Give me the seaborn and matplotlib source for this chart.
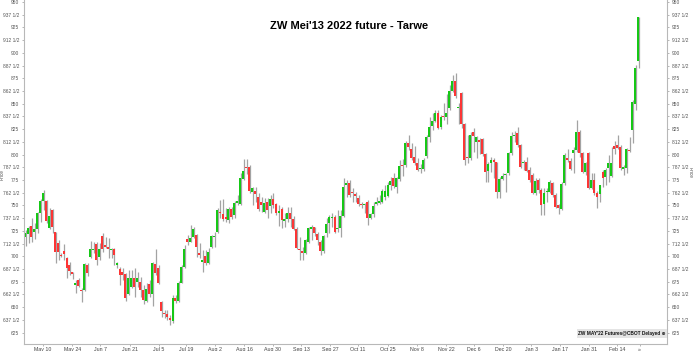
import matplotlib
matplotlib.use("Agg")
import matplotlib.pyplot as plt
import seaborn as sns
import pandas as pd
import numpy as np

# ---- data (cents/bushel), one entry per trading day ----
opens = [718.6, 721.9, 729.8, 724.2, 726.8, 742.9, 754.4, 754.4, 727.5, 745.2,
         723.9, 712.7, 701.6, 705.5, 698.7, 691.4, 684.2, 672.1, 676.7, 666.9,
         666.9, 691.4, 699.0, 706.5, 711.8, 699.0, 720.0, 710.8, 708.8, 706.2,
         707.5, 691.4, 687.8, 684.9, 682.3, 662.9, 670.1, 678.3, 675.0, 675.0,
         666.9, 656.4, 672.8, 662.9, 692.1, 688.2, 655.4, 644.6, 643.0, 639.7,
         636.7, 658.7, 656.0, 674.1, 689.2, 716.7, 714.4, 718.6, 720.9, 702.9,
         694.7, 700.3, 693.1, 709.5, 718.7, 724.3, 743.0, 741.6, 738.3, 735.7,
         746.5, 740.6, 752.8, 751.5, 775.7, 788.0, 788.2, 763.6, 764.6, 758.7,
         753.8, 743.9, 753.8, 749.5, 756.0, 751.5, 742.9, 746.2, 735.1, 736.4,
         742.9, 736.4, 726.5, 706.9, 705.6, 702.9, 714.4, 727.2, 728.5, 722.0,
         714.4, 705.6, 722.6, 733.1, 737.4, 738.3, 726.5, 727.5, 739.7, 770.1,
         771.8, 763.6, 761.3, 757.0, 751.5, 750.5, 753.8, 737.4, 741.6, 751.5,
         752.8, 753.8, 758.7, 759.3, 770.1, 776.7, 767.8, 775.7, 789.8, 789.8,
         811.7, 805.2, 797.3, 792.1, 785.5, 785.8, 798.9, 817.6, 828.4, 833.0,
         840.5, 827.4, 838.3, 837.3, 845.5, 862.5, 872.3, 845.5, 860.2, 829.7,
         797.9, 796.3, 822.5, 812.0, 814.3, 815.3, 800.2, 783.8, 791.4, 794.7,
         792.4, 762.9, 776.0, 779.9, 781.5, 801.2, 818.6, 820.9, 809.4, 791.4,
         793.0, 784.8, 779.9, 761.9, 775.0, 765.2, 751.1, 762.9, 763.5, 771.7,
         760.3, 750.4, 746.5, 771.7, 796.9, 793.7, 801.2, 804.5, 821.9, 801.2,
         783.2, 801.2, 767.5, 775.0, 761.9, 760.9, 783.2, 778.3, 786.5, 779.2,
         808.8, 809.4, 807.8, 785.8, 786.5, 804.5, 824.2, 849.4, 892.0]
closes = [723.2, 727.5, 719.3, 726.8, 742.9, 754.4, 762.6, 734.7, 740.0, 729.1,
          703.9, 704.6, 700.3, 702.6, 688.2, 685.5, 682.3, 673.4, 670.8, 665.6,
          692.4, 683.2, 706.8, 706.8, 696.4, 706.8, 706.8, 708.8, 707.5, 706.4,
          701.3, 693.7, 681.6, 681.3, 658.7, 678.3, 678.3, 670.1, 679.0, 666.9,
          657.0, 667.9, 662.9, 693.1, 683.9, 674.1, 646.6, 643.0, 640.0, 637.4,
          658.7, 656.0, 674.1, 689.2, 706.8, 714.4, 717.7, 726.8, 709.5, 701.3,
          696.4, 693.1, 704.6, 720.0, 720.0, 745.6, 742.3, 736.4, 736.4, 746.5,
          738.3, 752.1, 753.8, 776.7, 784.2, 786.5, 764.6, 766.9, 761.3, 746.5,
          750.5, 752.1, 745.6, 756.0, 750.5, 742.9, 744.6, 735.7, 736.4, 742.9,
          736.4, 726.5, 707.9, 706.2, 702.9, 716.0, 727.5, 728.5, 722.6, 716.0,
          705.2, 720.0, 731.8, 738.3, 738.3, 724.3, 727.5, 739.7, 768.5, 771.8,
          760.3, 761.9, 759.3, 751.5, 750.5, 751.5, 737.4, 741.6, 749.5, 753.8,
          753.8, 764.2, 764.6, 770.1, 774.4, 769.1, 776.7, 788.8, 788.8, 811.7,
          807.2, 796.3, 792.1, 784.9, 786.5, 794.7, 817.6, 827.4, 833.0, 840.5,
          825.8, 837.3, 837.0, 840.5, 862.5, 872.3, 857.9, 846.1, 829.7, 794.7,
          796.9, 819.2, 818.3, 817.6, 812.7, 800.2, 783.2, 790.4, 794.7, 793.0,
          762.9, 776.0, 779.2, 780.5, 801.2, 818.3, 819.2, 809.4, 788.1, 792.4,
          783.8, 775.0, 761.9, 774.0, 765.2, 750.4, 761.9, 763.5, 773.4, 760.3,
          748.8, 747.2, 770.7, 799.6, 794.7, 785.8, 804.5, 822.5, 801.2, 783.2,
          791.4, 766.8, 775.0, 761.9, 758.6, 770.1, 776.7, 784.8, 791.7, 791.7,
          805.5, 806.1, 786.5, 788.1, 805.5, 803.8, 852.0, 885.4, 934.9]
highs = [725.9, 729.8, 737.3, 732.4, 743.9, 756.0, 765.2, 755.3, 747.2, 746.2,
         723.9, 716.0, 702.9, 711.8, 699.6, 694.7, 684.9, 676.7, 678.3, 668.5,
         693.1, 693.1, 715.4, 714.4, 714.4, 712.7, 722.6, 718.6, 717.7, 707.8,
         708.5, 694.7, 689.8, 688.2, 683.2, 686.5, 686.5, 688.2, 684.9, 680.0,
         671.8, 673.4, 676.7, 694.7, 706.8, 691.4, 656.4, 647.2, 647.2, 642.3,
         661.9, 661.9, 675.7, 691.4, 711.1, 720.9, 730.8, 729.1, 721.9, 712.7,
         706.2, 706.2, 707.8, 720.9, 724.3, 747.2, 755.4, 756.0, 747.2, 748.2,
         748.8, 754.0, 760.3, 782.3, 795.4, 796.0, 789.8, 768.5, 768.5, 761.9,
         758.7, 757.0, 757.0, 760.3, 761.9, 752.8, 750.5, 748.8, 742.3, 748.2,
         748.2, 739.7, 729.2, 719.3, 709.5, 716.7, 729.2, 730.8, 729.2, 724.3,
         716.0, 721.0, 737.4, 740.6, 742.3, 740.6, 745.6, 745.6, 776.7, 775.0,
         775.0, 766.9, 763.6, 760.3, 753.8, 752.1, 755.4, 742.9, 753.8, 758.7,
         760.3, 765.9, 770.1, 773.4, 778.3, 781.6, 778.3, 794.7, 795.4, 813.7,
         819.3, 811.1, 808.5, 796.3, 791.0, 797.0, 819.0, 837.3, 840.5, 843.8,
         843.8, 838.9, 850.4, 859.2, 868.4, 878.2, 879.9, 850.4, 861.2, 830.7,
         819.2, 822.5, 826.4, 818.6, 816.6, 816.6, 801.2, 793.0, 797.9, 796.9,
         793.0, 778.3, 781.5, 781.5, 802.8, 822.5, 823.2, 827.4, 810.1, 794.7,
         797.9, 788.1, 781.5, 776.7, 776.7, 766.8, 767.5, 766.8, 775.0, 773.4,
         761.9, 751.1, 773.4, 801.2, 805.5, 796.3, 807.8, 834.0, 824.2, 802.8,
         793.0, 802.8, 781.5, 781.5, 764.2, 770.1, 784.8, 786.5, 799.6, 807.8,
         813.3, 819.2, 809.4, 789.8, 806.1, 817.6, 853.6, 888.1, 935.6]
lows = [710.1, 712.7, 714.4, 716.7, 722.6, 734.0, 745.5, 733.0, 726.5, 723.2,
        693.7, 696.4, 699.0, 696.4, 678.3, 681.6, 677.4, 664.2, 670.1, 655.4,
        666.2, 680.6, 698.0, 702.9, 691.4, 696.4, 704.6, 707.8, 698.0, 698.0,
        691.4, 688.2, 671.8, 676.7, 656.4, 661.9, 668.5, 660.3, 670.1, 660.3,
        653.1, 655.4, 660.3, 651.1, 681.6, 672.4, 640.7, 639.0, 637.4, 632.5,
        634.1, 654.4, 655.4, 673.4, 688.2, 711.1, 714.4, 717.7, 699.6, 698.0,
        684.9, 691.4, 692.4, 707.8, 709.5, 723.3, 737.4, 735.1, 734.1, 733.1,
        736.4, 738.0, 750.5, 750.5, 775.0, 781.0, 761.9, 750.5, 753.8, 744.9,
        743.9, 742.3, 737.4, 742.3, 747.2, 740.6, 729.8, 727.5, 729.2, 734.1,
        729.2, 725.9, 706.9, 696.4, 696.4, 702.3, 712.8, 716.0, 720.0, 711.1,
        701.3, 703.6, 719.3, 722.6, 729.2, 722.6, 724.3, 718.7, 738.3, 758.7,
        758.7, 753.8, 753.8, 749.5, 747.2, 742.3, 730.8, 736.4, 739.0, 750.5,
        751.5, 752.8, 755.4, 758.7, 765.2, 766.9, 761.9, 774.4, 779.0, 788.2,
        804.5, 794.7, 789.8, 784.2, 782.0, 784.0, 797.0, 812.7, 824.2, 832.0,
        825.1, 825.1, 834.0, 829.7, 843.8, 861.2, 856.0, 829.7, 825.8, 789.8,
        791.4, 794.7, 802.8, 796.3, 800.2, 798.9, 773.4, 773.4, 782.5, 776.7,
        757.6, 757.6, 775.0, 763.5, 779.9, 799.6, 812.7, 807.8, 786.5, 784.8,
        783.2, 773.4, 760.9, 760.3, 761.9, 740.6, 740.6, 753.7, 761.9, 758.6,
        747.2, 741.3, 745.5, 770.1, 793.0, 784.8, 781.5, 802.8, 797.9, 781.5,
        779.9, 766.2, 766.2, 760.3, 747.2, 753.7, 768.5, 770.1, 773.4, 778.3,
        800.2, 805.5, 784.8, 779.9, 781.5, 802.8, 811.1, 843.8, 885.4]

date_labels = ["May 10", "May 24", "Jun 7", "Jun 21", "Jul 5", "Jul 19", "Aug 2",
               "Aug 16", "Aug 30", "Sep 13", "Sep 27", "Oct 11", "Oct 25", "Nov 8",
               "Nov 22", "Dec 6", "Dec 20", "Jan 3", "Jan 17", "Jan 31", "Feb 14"]
date_label_index = [6, 16, 25.4, 35.5, 45.4, 54.6, 64.4, 74.3, 84, 93.6, 103.5, 113,
                    123, 133, 143, 152.4, 162.2, 171.8, 181.6, 191.5, 201]

title = "ZW Mei'13 2022 future - Tarwe"
source = "ZW MAY'22 Futures@CBOT Delayed \u2295"

df = pd.DataFrame({"open": opens, "high": highs, "low": lows, "close": closes})
df["idx"] = np.arange(len(df))
df["up"] = df["close"] >= df["open"]

sns.set_theme(style="white")
plt.rcParams["font.family"] = ["Liberation Sans", "DejaVu Sans"]

W, H = 693, 351
fig = plt.figure(figsize=(W / 100, H / 100), dpi=100)
ax = fig.add_axes([24 / W, 7 / H, (667 - 24) / W, 344 / H])

GREEN = "#16c816"
RED = "#fc3535"
WICK = "#a3a3a3"

# wicks (slightly right of body centre, as in the reference)
ax.vlines(df["idx"] + 0.28, df["low"], df["high"], color=WICK, linewidth=0.9, zorder=1)
bottom = np.minimum(df["open"], df["close"])
height = np.maximum(np.abs(df["close"] - df["open"]), 1.1)
colors = np.where(df["up"], GREEN, RED)
ax.bar(df["idx"], height, bottom=bottom, width=0.68, color=colors,
       linewidth=0, zorder=2)

ax.set_xlim(-0.44, 217.9)
ax.set_ylim(613.8, 951.97)

yt = np.arange(625, 950.01, 12.5)
def fmt(v):
    w = int(v)
    return f"{w} 1/2" if abs(v - w - 0.5) < 1e-6 else f"{w}"
ax.set_yticks(yt)
ax.set_yticklabels([fmt(v) for v in yt])
ax.tick_params(axis="y", which="both", left=True, right=True, labelleft=True,
               labelright=True, length=1.5, width=0.5, color="#999999",
               labelsize=3.5, labelcolor="#555555", pad=2)
ax.set_xticks(date_label_index + [208.6])
ax.set_xticklabels(date_labels + ["\u00bb"])
ax.tick_params(axis="x", bottom=True, length=1.5, width=0.5, color="#999999",
               labelsize=3.8, labelcolor="#444444", pad=1)
for s in ["left", "right", "bottom"]:
    ax.spines[s].set_color("#b8b8b8")
    ax.spines[s].set_linewidth(0.8)
ax.spines["top"].set_visible(False)
ax.grid(False)
ax.set_ylabel("")
ax.set_xlabel("")

fig.text(2.3 / W, 1 - 174 / H, "Price", rotation=90, ha="center", va="center",
         fontsize=3.4, color="#555555")
fig.text(690.5 / W, 1 - 173 / H, "Price", rotation=270, ha="center", va="center",
         fontsize=3.4, color="#555555")

fig.text(349 / W, 1 - 26 / H, title, ha="center", va="center",
         fontsize=8, fontweight="bold", color="black")

fig.text(622 / W, 1 - 333.5 / H, source, ha="center", va="center",
         fontsize=3.4, fontweight="bold", color="#111111",
         bbox=dict(boxstyle="square,pad=0.35", fc="#e4e4e4", ec="none"))

fig.savefig("out.png", dpi=100)
